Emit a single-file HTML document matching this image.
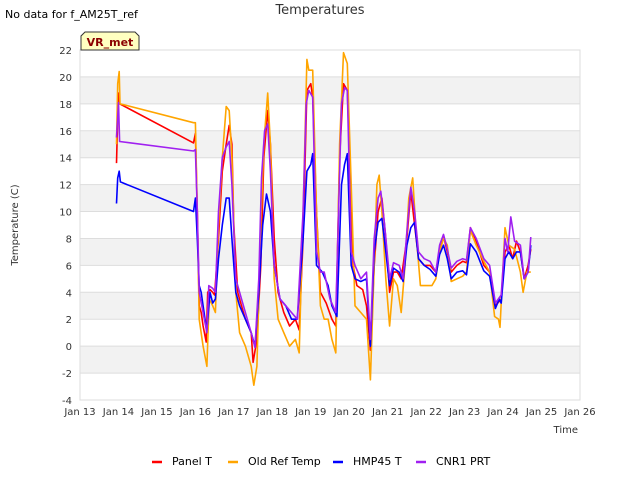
<!DOCTYPE html>
<html><head><meta charset="utf-8"><style>
body{margin:0;background:#fff;}
svg text{font-family:"DejaVu Sans","Liberation Sans",sans-serif;}
</style></head><body>
<svg id="c" width="640" height="480" xmlns="http://www.w3.org/2000/svg">
<text x="5" y="18" font-size="11" fill="#000">No data for f_AM25T_ref</text>
<text x="320" y="14" font-size="13" fill="#333" text-anchor="middle">Temperatures</text>
<g id="plot"></g>
<g id="series"></g>
<g>
<path d="M81 50 L81 36 L85 32 L135 32 L139 36 L139 50 Z" fill="#ffffc0" stroke="#333" stroke-width="1"/>
<text x="110" y="46" font-size="11" font-weight="bold" fill="#8b0000" text-anchor="middle">VR_met</text>
</g>
<text x="18" y="225" font-size="10" fill="#333" text-anchor="middle" transform="rotate(-90 18 225)">Temperature (C)</text>
<text x="578" y="433" font-size="10" fill="#333" text-anchor="end">Time</text>
<g id="legend"></g>
</svg>
<script>
const yTicks=[-4,-2,0,2,4,6,8,10,12,14,16,18,20,22];
const xTickLabels=["Jan 13","Jan 14","Jan 15","Jan 16","Jan 17","Jan 18","Jan 19","Jan 20","Jan 21","Jan 22","Jan 23","Jan 24","Jan 25","Jan 26"];
const seriesNames=["Panel T","Old Ref Temp","HMP45 T","CNR1 PRT"];
const seriesColors=["#ff0000","#ffa500","#0000ff","#a020f0"];
const panelT=[[0.95,13.6],[0.98,17],[1.0,18.8],[1.03,18.0],[2.95,15.1],[3.0,15.8],[3.05,10],[3.1,3],[3.15,2.5],[3.2,1.5],[3.28,0.3],[3.32,4],[3.38,4.2],[3.45,4.0],[3.5,3.8],[3.6,8],[3.7,13],[3.8,15],[3.88,16.4],[3.95,15],[4.0,9],[4.1,4],[4.2,3],[4.3,2],[4.45,1.0],[4.5,-1.2],[4.6,0.5],[4.7,6],[4.78,14],[4.88,17.5],[4.95,15],[5.05,8],[5.15,4],[5.3,2.5],[5.45,1.5],[5.6,2.0],[5.7,1.2],[5.8,8],[5.9,19],[6.0,19.5],[6.05,18.5],[6.15,10],[6.25,4],[6.4,3.2],[6.55,2],[6.65,1.5],[6.75,14],[6.85,19.5],[6.95,19],[7.0,15],[7.1,6],[7.2,4.5],[7.35,4.2],[7.45,3.0],[7.55,-0.3],[7.65,6],[7.75,10],[7.85,11],[7.95,8],[8.05,4],[8.15,5.5],[8.25,5.5],[8.35,5],[8.5,8],[8.6,11.5],[8.7,9],[8.8,6.5],[8.95,6],[9.1,6],[9.25,5.5],[9.35,7],[9.45,8.2],[9.55,7],[9.65,5.5],[9.8,6],[9.95,6.3],[10.05,6.2],[10.15,8.8],[10.3,7.8],[10.5,6],[10.65,5.5],[10.8,3],[10.95,3.5],[11.05,7],[11.15,7.5],[11.25,6.5],[11.35,7.8],[11.45,7],[11.55,5],[11.65,6],[11.72,7.2]];
const oldRef=[[0.95,15],[0.98,19.5],[1.02,20.4],[1.04,18],[2.95,16.6],[3.0,16.6],[3.05,10],[3.1,2],[3.2,0],[3.3,-1.5],[3.36,3.5],[3.45,3],[3.52,2.5],[3.6,9],[3.7,14],[3.8,17.8],[3.88,17.5],[3.95,14],[4.05,4],[4.15,1],[4.3,0],[4.45,-1.5],[4.52,-2.9],[4.6,-1.5],[4.7,9],[4.78,15],[4.88,18.8],[4.95,15],[5.05,5],[5.15,2],[5.3,1],[5.45,0],[5.6,0.5],[5.7,-0.5],[5.82,12],[5.9,21.3],[5.95,20.5],[6.05,20.5],[6.15,10],[6.25,3],[6.35,2],[6.45,2],[6.55,0.5],[6.65,-0.5],[6.75,15],[6.85,21.8],[6.95,21],[7.05,12],[7.15,3],[7.3,2.5],[7.45,2],[7.55,-2.5],[7.65,6],[7.72,12],[7.78,12.7],[7.85,10],[7.95,5],[8.05,1.5],[8.15,5],[8.25,4.5],[8.35,2.5],[8.45,6],[8.55,11],[8.65,12.5],[8.75,8],[8.85,4.5],[9.0,4.5],[9.15,4.5],[9.25,5],[9.35,7],[9.45,8],[9.55,7.5],[9.65,4.8],[9.8,5],[9.95,5.2],[10.05,5.5],[10.15,8.6],[10.3,7.5],[10.5,6.3],[10.65,5.5],[10.78,2.2],[10.88,2],[10.92,1.4],[11.0,6],[11.05,8.8],[11.15,7.5],[11.3,7.2],[11.45,5.5],[11.52,4],[11.62,5.5],[11.72,5.5]];
const hmp45=[[0.95,10.6],[0.98,12.5],[1.02,13],[1.05,12.2],[2.95,10],[3.0,11],[3.05,8],[3.1,4.5],[3.15,4],[3.25,2],[3.3,1.2],[3.38,4],[3.45,3.2],[3.52,3.5],[3.6,6.5],[3.7,9],[3.8,11],[3.88,11],[3.95,8],[4.05,4],[4.15,3],[4.3,2],[4.45,1.0],[4.55,0],[4.65,4],[4.75,9],[4.85,11.3],[4.95,10],[5.05,6],[5.2,3.5],[5.35,3],[5.5,2],[5.65,2],[5.8,8],[5.9,13],[6.0,13.5],[6.05,14.3],[6.15,6],[6.3,5.5],[6.45,4.5],[6.55,3],[6.68,2.2],[6.8,12],[6.88,13.5],[6.95,14.3],[7.05,6],[7.15,5],[7.3,4.8],[7.45,5],[7.55,0],[7.65,7],[7.75,9.2],[7.85,9.5],[7.95,7],[8.05,4.5],[8.15,5.8],[8.3,5.5],[8.4,4.8],[8.5,7.5],[8.6,8.8],[8.7,9.2],[8.8,6.5],[8.95,6],[9.1,5.7],[9.25,5.2],[9.35,6.8],[9.45,7.5],[9.55,6.5],[9.65,5],[9.8,5.5],[9.95,5.6],[10.05,5.3],[10.15,7.6],[10.3,7],[10.5,5.6],[10.65,5.2],[10.8,2.8],[10.9,3.5],[10.95,3.2],[11.05,6.5],[11.15,7],[11.25,6.5],[11.35,7],[11.45,7],[11.55,5],[11.65,5.5],[11.72,7.5]];
const cnr1=[[0.95,15.5],[0.98,17],[1.0,18.1],[1.03,15.2],[2.95,14.5],[3.0,14.6],[3.05,10],[3.1,4],[3.2,2.5],[3.3,1.0],[3.35,4.5],[3.45,4.3],[3.52,4.0],[3.6,10],[3.7,14],[3.8,14.8],[3.88,15.2],[3.95,12],[4.05,5],[4.2,3.5],[4.35,2],[4.45,1.0],[4.55,-0.1],[4.65,5],[4.72,12.5],[4.8,16],[4.88,16.5],[4.95,13],[5.05,6],[5.2,3.5],[5.35,3],[5.5,2.5],[5.65,2],[5.8,10],[5.88,18],[5.95,19],[6.05,18.5],[6.15,7],[6.25,5.5],[6.35,5.5],[6.5,3.5],[6.65,2.5],[6.8,18],[6.88,19.2],[6.95,19],[7.05,7],[7.15,6],[7.3,5],[7.45,5.5],[7.55,0.5],[7.65,8],[7.75,11],[7.82,11.5],[7.92,9],[8.05,5],[8.15,6.2],[8.3,6],[8.4,5],[8.5,8.5],[8.6,11.8],[8.7,10],[8.8,7],[8.95,6.5],[9.1,6.3],[9.25,5.5],[9.35,7.5],[9.45,8.3],[9.55,7.2],[9.65,5.8],[9.8,6.3],[9.95,6.5],[10.05,6.4],[10.15,8.8],[10.3,8],[10.5,6.5],[10.65,6],[10.8,3.2],[10.95,3.8],[11.05,8],[11.12,7],[11.2,9.6],[11.3,7.8],[11.45,7.5],[11.55,5],[11.65,5.5],[11.72,8.1]];

const NS="http://www.w3.org/2000/svg";
const X0=80,X1=580,Y0=400,Y1=50;
const xs=d=>X0+d/13*(X1-X0);
const ys=v=>Y0-(v+4)/26*(Y0-Y1);
function mk(tag,attrs,parent){const e=document.createElementNS(NS,tag);for(const k in attrs)e.setAttribute(k,attrs[k]);parent.appendChild(e);return e;}
const plot=document.getElementById('plot');
for(let i=0;i<yTicks.length-1;i++){
  const v=yTicks[i];
  if(((v+4)/2)%2===1){
    const r=mk('rect',{x:X0,y:ys(v+2),width:X1-X0,height:ys(v)-ys(v+2),fill:'#f2f2f2'},plot);
    
    
  }
}
yTicks.forEach(v=>{
  const l=mk('line',{x1:X0,x2:X1,y1:ys(v),y2:ys(v),stroke:'#dddddd','stroke-width':1},plot);
  
  
  const t=mk('text',{x:X0-8,y:ys(v)+4,'font-size':10,fill:'#333','text-anchor':'end'},plot);
  t.textContent=v;
  
  
});
const bd=mk('rect',{x:X0,y:Y1,width:X1-X0,height:Y0-Y1,fill:'none',stroke:'#dddddd'},plot);


xTickLabels.forEach((s,i)=>{
  const t=mk('text',{x:xs(i),y:415,'font-size':10,fill:'#333','text-anchor':'middle'},plot);
  t.textContent=s;
  
  
});
const sg=document.getElementById('series');
[panelT,oldRef,hmp45,cnr1].forEach((data,i)=>{
  const p=mk('polyline',{points:data.map(d=>xs(d[0]).toFixed(1)+','+ys(d[1]).toFixed(1)).join(' '),fill:'none',stroke:seriesColors[i],'stroke-width':1.6,'stroke-linejoin':'round'},sg);
  
  
});
const lg=document.getElementById('legend');
const lx=[152,228,333,416];
seriesNames.forEach((n,i)=>{
  const l=mk('line',{x1:lx[i],x2:lx[i]+10,y1:462,y2:462,stroke:seriesColors[i],'stroke-width':2.5},lg);
  
  
  const t=mk('text',{x:lx[i]+20,y:465,'font-size':11,fill:'#000'},lg);
  t.textContent=n;
  
  
});
</script>
</body></html>
